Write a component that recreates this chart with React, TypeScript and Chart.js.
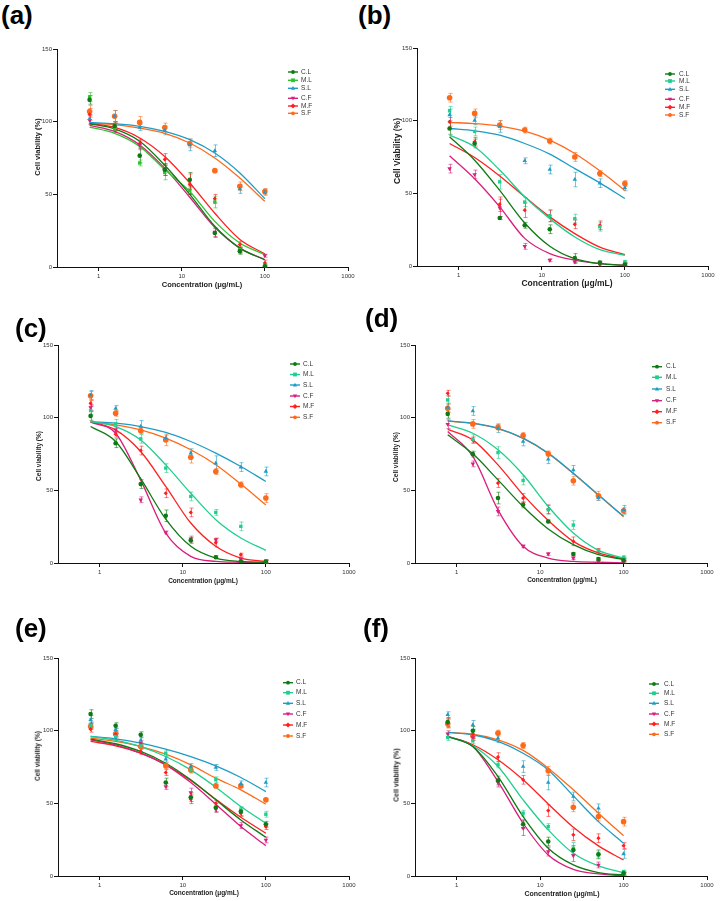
import React, { useEffect, useRef } from 'react';
import { Chart, registerables } from 'chart.js';

Chart.register(...registerables);

const FONT = '"Liberation Sans", Arial, Helvetica, sans-serif';

// ---------- shared data ----------
const CONCENTRATIONS = [0.78, 1.56, 3.125, 6.25, 12.5, 25, 50, 100];
const SERIES = ['C.L', 'M.L', 'S.L', 'C.F', 'M.F', 'S.F'];
const X_TICKS = [1, 10, 100, 1000];
const Y_TICKS = [0, 50, 100, 150];
const X_TITLE = 'Concentration (μg/mL)';

// ---------- panel (a) ----------  rows: C.L, M.L, S.L, C.F, M.F, S.F
const A_MEAN = [
  [115, 97, 76.6, 67, 60, 23.4, 10.8, 0.5],
  [117, 95, 71.6, 65, 52.8, 44.7, 12, 0.5],
  [102, 103.7, 96, 94, 84, 80, 53.7, 51.4],
  [101, 95.6, 83.7, 67, 53, 24, 11.5, 7.8],
  [105, 97, 85, 74, 57, 47, 15.4, 2.8],
  [107, 103.7, 99.5, 96, 85, 66.3, 55.5, 52],
];
const A_SD = [
  [3, 3, 5, 4, 5, 3, 2, 1],
  [3, 2, 2, 5, 3, 4, 2, 2],
  [3, 4, 2, 3, 4, 4, 3, 2],
  [3, 3, 3, 4, 3, 3, 2, 1],
  [4, 3, 3, 4, 7, 3, 2, 2],
  [4, 4, 4, 3, 3, 1, 3, 2],
];
const A_FIT = [
  [98.6, 95, 86.5, 70, 50, 28, 13, 5],
  [96.3, 92, 83, 67, 52, 31.4, 16.5, 8.5],
  [99.5, 98.6, 96.8, 93.3, 87.6, 78.4, 64.7, 47],
  [97.5, 93.3, 84, 68, 48, 27.3, 13, 5],
  [98.6, 96, 88.8, 76, 57.8, 37, 19, 9],
  [99, 98, 95.6, 92, 85.3, 75, 61.2, 45.2],
];

// ---------- panel (b) ----------
const B_MEAN = [
  [94.6, 84.3, 33, 28, 25.3, 5.5, 2.3, 1],
  [106.8, 92.6, 57.9, 44, 34.5, 32.6, 27, 2.8],
  [104, 100.2, 96, 72.4, 66.4, 59.5, 57, 53.8],
  [67, 63, 40, 13.5, 4, 2.8, 1, 1],
  [99.2, 85.5, 42.5, 38.4, 34.5, 28.7, 28, 1.6],
  [115.8, 105, 97, 93.5, 86, 75, 63.6, 56.7],
];
const B_SD = [
  [4, 3, 1, 2, 3, 3, 1, 1],
  [3, 3, 5, 3, 4, 3, 3, 1],
  [4, 3, 4, 2, 3, 5, 3, 2],
  [3, 3, 6, 2, 1, 1, 1, 1],
  [3, 3, 5, 5, 4, 3, 3, 1],
  [3, 3, 3, 2, 2, 3, 2, 2],
];
const B_FIT = [
  [88.9, 72.8, 52, 29.6, 13.6, 5, 1.6, 0.5],
  [90, 82, 66, 47.6, 32.6, 20, 11.3, 7.4],
  [94.6, 93, 90, 84.3, 77, 67, 57.2, 46.4],
  [75.8, 60, 40.7, 19, 8.5, 4, 1.6, 0.5],
  [84.3, 74.7, 62, 47.6, 33.8, 22.3, 13, 7.8],
  [98.8, 98, 96.3, 92.8, 86.6, 77.4, 65.5, 52],
];

// ---------- panel (c) ----------
const C_MEAN = [
  [101.2, 82.4, 54.3, 32.5, 15.6, 4, 1, 1],
  [104.9, 95.7, 85.4, 65.3, 45.8, 34.8, 25.2, 1],
  [115.6, 106.3, 94, 85.9, 75.6, 68.7, 66, 63],
  [107, 91.6, 43.5, 21, 16.5, 16, 2.7, 1],
  [110, 88.6, 77.4, 48, 34.8, 14, 5.7, 1],
  [115, 103, 91, 84.7, 72.8, 63, 53.8, 44.7],
];
const C_SD = [
  [3, 3, 3, 4, 2, 1, 1, 1],
  [3, 3, 3, 3, 3, 2, 3, 1],
  [3, 2, 4, 2, 3, 5, 3, 3],
  [2, 2, 2, 1, 2, 1, 1, 1],
  [2, 2, 3, 3, 3, 3, 1, 1],
  [3, 2, 2, 4, 4, 2, 2, 3],
];
const C_FIT = [
  [93.9, 83.6, 58, 30.2, 11.5, 3.4, 1.1, 0.5],
  [97.3, 93.9, 84.7, 67.5, 48, 29.8, 17.2, 8.7],
  [97.3, 96.2, 93.9, 89.8, 83.6, 75.6, 66.4, 56.1],
  [96.9, 89.3, 57, 20.6, 4.6, 1.1, 0.5, 0],
  [97.3, 91.6, 76.7, 52.7, 27.5, 11.5, 3.4, 1.1],
  [96.9, 95, 91.6, 85.9, 77.9, 67.6, 54.3, 40],
];

// ---------- panel (d) ----------
const D_MEAN = [
  [102.6, 74.9, 44.7, 40, 28.6, 6.2, 2.7, 1.8],
  [112.2, 85.2, 76, 56.8, 36.6, 26.1, 8.5, 3.9],
  [107, 104.6, 92.7, 83.6, 71.4, 64.1, 45, 36.6],
  [95.5, 68.2, 35.5, 11.5, 6.2, 3.4, 1, 0.5],
  [116.8, 84.7, 55, 44.7, 37, 14.9, 8, 2.7],
  [106.5, 95.7, 93.4, 87.7, 75.1, 56.6, 46.3, 36],
];
const D_SD = [
  [3, 2, 4, 2, 1, 1, 1, 1],
  [3, 3, 4, 3, 3, 3, 1, 1],
  [3, 3, 3, 3, 3, 3, 2, 3],
  [3, 2, 3, 1, 1, 1, 1, 1],
  [2, 2, 3, 3, 3, 3, 2, 1],
  [3, 3, 2, 2, 2, 3, 3, 2],
];
const D_FIT = [
  [88.2, 75.1, 57.2, 38.9, 23.4, 12.6, 5.7, 2.3],
  [95, 89.3, 77.9, 60.7, 38.9, 20.6, 8.7, 3.4],
  [97.8, 96.2, 92.7, 85.9, 75.6, 61.8, 46.9, 32.1],
  [90.5, 73.3, 36.6, 11.5, 3.4, 1.1, 0.5, 0],
  [92, 84.7, 67.5, 46.9, 29.3, 14.9, 6.9, 2.7],
  [97.6, 96, 92.5, 85.7, 75.4, 61.6, 46.7, 31.9],
];

// ---------- panel (e) ----------
const E_MEAN = [
  [111.4, 103.4, 97.2, 64.3, 54.2, 47.1, 44.3, 35.6],
  [103.6, 96, 89.6, 84.5, 73, 66.2, 45.5, 42.5],
  [107.5, 100.6, 93.3, 80.4, 75.3, 74.7, 63.4, 64.3],
  [104, 96, 91.4, 61.6, 57.4, 45.9, 34.7, 24.8],
  [101, 97.6, 85.7, 71.2, 52.8, 50, 43.2, 34],
  [102.9, 97.9, 89.1, 75.8, 73, 62, 62, 52.4],
];
const E_SD = [
  [3, 2, 2, 3, 3, 3, 3, 2],
  [2, 2, 2, 2, 2, 2, 2, 2],
  [3, 2, 3, 2, 2, 2, 2, 3],
  [2, 2, 2, 2, 3, 2, 2, 2],
  [2, 2, 2, 2, 3, 2, 2, 2],
  [2, 2, 2, 2, 2, 1, 1, 1],
];
const E_FIT = [
  [94.2, 91, 85.7, 77.6, 66.2, 52.4, 38.6, 26.6],
  [96, 93.3, 89.1, 82.2, 73, 61.1, 47.8, 36.3],
  [96, 94.4, 91.4, 87.3, 82.2, 75.8, 67.8, 58.1],
  [93.7, 90.3, 84.5, 76.5, 64.3, 49.4, 34, 20.9],
  [92.6, 89.6, 84.5, 76.5, 65.7, 52.8, 40.4, 29.4],
  [94.9, 92.6, 89.1, 83.8, 76.5, 67.3, 59.3, 49.4],
];

// ---------- panel (f) ----------
const F_MEAN = [
  [105.9, 99.9, 65.7, 35.6, 23.7, 17.9, 14.9, 1.8],
  [95.3, 93, 76.5, 43.2, 34, 19.1, 14.5, 3],
  [111, 104, 94.9, 75.3, 64.3, 54.7, 46.6, 15.2],
  [97.9, 95.3, 64.3, 32.9, 16.8, 14, 7.6, 1.4],
  [105.2, 97.6, 81.8, 66.2, 45, 28.3, 26, 20.9],
  [104.8, 96.5, 98.3, 89.8, 72.4, 47.3, 40.9, 37.4],
];
const F_SD = [
  [3, 3, 3, 3, 3, 3, 3, 1],
  [2, 2, 2, 2, 2, 4, 2, 1],
  [2, 3, 3, 4, 5, 3, 3, 3],
  [2, 2, 3, 5, 3, 4, 2, 1],
  [3, 3, 3, 3, 4, 4, 3, 2],
  [3, 3, 2, 2, 3, 3, 3, 3],
];
const F_FIT = [
  [96, 89.1, 68.4, 40.9, 19.1, 7.6, 2.3, 0.7],
  [96, 89.6, 75.3, 52.4, 31.7, 15.6, 6.9, 2.3],
  [98.8, 97.2, 92.6, 84.5, 73, 55.1, 37.4, 22.5],
  [96, 89.1, 65, 36.3, 14.5, 4.6, 1.4, 0.2],
  [96, 90.3, 80, 66.2, 49.6, 33.5, 20.7, 11],
  [98.8, 97.6, 93.7, 86.4, 74.2, 59.3, 43.2, 27.6],
];

// ---------- styles ----------
const COLORS = ['#0f7a14', '#1fcf8d', '#1f9cc6', '#d91e7c', '#ff1f1f', '#ff6a1a'];
const COLORS_A = ['#0f7a14', '#2ec42e', '#1f9cc6', '#d91e7c', '#ff1f1f', '#ff6a1a'];
const POINT_STYLES = ['circle', 'rect', 'triangle', 'triangle', 'rectRot', 'circle'];
const POINT_ROT = [0, 0, 0, 180, 0, 0];
const POINT_RADIUS = [2.3, 2.4, 2.6, 2.6, 2.1, 2.8];

const PADL = 30;
const PADT = 8;
const PADR = 14;
const PADB = 18;

const PANELS = [
  {
    label: '(a)', labelX: 3, labelY: 5, mean: A_MEAN, sd: A_SD, fit: A_FIT, colors: COLORS_A,
    box: { l: 57, r: 348, t: 49, b: 267 },
    legX: 293, legTextX: 301, legY: [72, 80.3, 88.3, 98.3, 106, 113.3],
    yTitle: 'Cell viability (%)', yTitleX: 38, yTitleY: 147, xTitleX: 202, xTitleY: 285, titleSize: 7.5,
  },
  {
    label: '(b)', labelX: 360, labelY: 5, mean: B_MEAN, sd: B_SD, fit: B_FIT, colors: COLORS,
    box: { l: 417, r: 708, t: 48, b: 266 },
    legX: 670, legTextX: 679, legY: [74, 81, 89.3, 99.3, 107.3, 115],
    yTitle: 'Cell Viability (%)', yTitleX: 397, yTitleY: 151, xTitleX: 567, xTitleY: 283, titleSize: 8.5,
  },
  {
    label: '(c)', labelX: 17, labelY: 318, mean: C_MEAN, sd: C_SD, fit: C_FIT, colors: COLORS,
    box: { l: 58, r: 349, t: 345, b: 563 },
    legX: 295, legTextX: 303, legY: [364, 374.5, 385, 396, 406.5, 417.3],
    yTitle: 'Cell viability (%)', yTitleX: 39, yTitleY: 456, xTitleX: 203, xTitleY: 581, titleSize: 6.5,
  },
  {
    label: '(d)', labelX: 367, labelY: 308, mean: D_MEAN, sd: D_SD, fit: D_FIT, colors: COLORS,
    box: { l: 415, r: 707, t: 345, b: 563 },
    legX: 657, legTextX: 666, legY: [366.7, 377.3, 389, 400.7, 411.7, 422.7],
    yTitle: 'Cell viability (%)', yTitleX: 396, yTitleY: 457, xTitleX: 562, xTitleY: 580, titleSize: 6.5,
  },
  {
    label: '(e)', labelX: 17, labelY: 618, mean: E_MEAN, sd: E_SD, fit: E_FIT, colors: COLORS,
    box: { l: 58, r: 349, t: 658, b: 876 },
    legX: 288, legTextX: 296, legY: [682.7, 692.7, 703.3, 714, 725, 736],
    yTitle: 'Cell viability (%)', yTitleX: 38, yTitleY: 756, xTitleX: 204, xTitleY: 893, titleSize: 6.5,
  },
  {
    label: '(f)', labelX: 365, labelY: 618, mean: F_MEAN, sd: F_SD, fit: F_FIT, colors: COLORS,
    box: { l: 415, r: 707, t: 658, b: 876 },
    legX: 654, legTextX: 664, legY: [684, 693.3, 703.3, 714, 724, 734.3],
    yTitle: 'Cell viability (%)', yTitleX: 396, yTitleY: 775, xTitleX: 562, xTitleY: 893, titleSize: 7,
  },
];

function rgba(hex: string, a: number) {
  const n = parseInt(hex.slice(1), 16);
  return `rgba(${(n >> 16) & 255},${(n >> 8) & 255},${n & 255},${a})`;
}

function drawMarker(ctx: CanvasRenderingContext2D, style: string, rot: number, r: number, x: number, y: number) {
  ctx.beginPath();
  if (style === 'circle') {
    ctx.arc(x, y, r, 0, Math.PI * 2);
  } else if (style === 'rect') {
    ctx.rect(x - r, y - r, 2 * r, 2 * r);
  } else if (style === 'rectRot') {
    ctx.moveTo(x, y - r * 1.3);
    ctx.lineTo(x + r * 1.3, y);
    ctx.lineTo(x, y + r * 1.3);
    ctx.lineTo(x - r * 1.3, y);
    ctx.closePath();
  } else if (style === 'triangle') {
    const s = rot === 180 ? -1 : 1;
    ctx.moveTo(x, y - s * r * 1.2);
    ctx.lineTo(x + r * 1.1, y + s * r * 0.8);
    ctx.lineTo(x - r * 1.1, y + s * r * 0.8);
    ctx.closePath();
  }
  ctx.fill();
}

function Panel({ cfg }: { cfg: any }) {
  const ref = useRef<HTMLCanvasElement>(null);
  const W = cfg.box.r - cfg.box.l + PADL + PADR;
  const H = cfg.box.b - cfg.box.t + PADT + PADB;
  const left = cfg.box.l - PADL;
  const top = cfg.box.t - PADT;

  useEffect(() => {
    const canvas = ref.current;
    if (!canvas) return;
    const colors: string[] = cfg.colors;

    const datasets: any[] = [];
    SERIES.forEach((name, i) => {
      datasets.push({
        type: 'scatter',
        label: name,
        data: CONCENTRATIONS.map((x, j) => ({ x, y: cfg.mean[i][j] })),
        backgroundColor: colors[i],
        borderColor: colors[i],
        borderWidth: 0,
        pointStyle: POINT_STYLES[i],
        pointRotation: POINT_ROT[i],
        pointRadius: POINT_RADIUS[i],
        showLine: false,
      });
    });
    SERIES.forEach((name, i) => {
      datasets.push({
        type: 'line',
        label: name + ' fit',
        data: CONCENTRATIONS.map((x, j) => ({ x, y: cfg.fit[i][j] })),
        borderColor: colors[i],
        backgroundColor: colors[i],
        borderWidth: 1.3,
        pointRadius: 0,
        fill: false,
        cubicInterpolationMode: 'monotone',
      });
    });

    const errorBars = {
      id: 'errorBars',
      beforeDatasetsDraw(chart: any) {
        const ctx = chart.ctx;
        const ys = chart.scales.y;
        ctx.save();
        ctx.lineWidth = 1;
        SERIES.forEach((_, i) => {
          const meta = chart.getDatasetMeta(i);
          ctx.strokeStyle = rgba(colors[i], 0.6);
          meta.data.forEach((el: any, j: number) => {
            const m = cfg.mean[i][j];
            const s = cfg.sd[i][j];
            const y1 = ys.getPixelForValue(m + s);
            const y2 = ys.getPixelForValue(Math.max(0, m - s));
            const x = Math.round(el.x) + 0.5;
            ctx.beginPath();
            ctx.moveTo(x, y1);
            ctx.lineTo(x, y2);
            ctx.moveTo(x - 2, y1);
            ctx.lineTo(x + 2, y1);
            ctx.moveTo(x - 2, y2);
            ctx.lineTo(x + 2, y2);
            ctx.stroke();
          });
        });
        ctx.restore();
      },
    };

    const legendPlugin = {
      id: 'panelLegend',
      afterDraw(chart: any) {
        const ctx = chart.ctx;
        ctx.save();
        ctx.font = `6.5px ${FONT}`;
        ctx.textBaseline = 'middle';
        ctx.textAlign = 'left';
        SERIES.forEach((name, i) => {
          const x = cfg.legX - left;
          const y = cfg.legY[i] - top;
          ctx.strokeStyle = colors[i];
          ctx.fillStyle = colors[i];
          ctx.lineWidth = 1.4;
          ctx.beginPath();
          ctx.moveTo(x - 5, y);
          ctx.lineTo(x + 5, y);
          ctx.stroke();
          drawMarker(ctx, POINT_STYLES[i], POINT_ROT[i], 1.9, x, y);
          ctx.fillStyle = '#333';
          ctx.fillText(name, cfg.legTextX - left, y);
        });
        ctx.restore();
      },
    };

    const zeroPad = (s: any) => {
      s.paddingLeft = 0;
      s.paddingRight = 0;
      s.paddingTop = 0;
      s.paddingBottom = 0;
    };

    const axisCommon = {
      grid: { drawOnChartArea: false, drawTicks: true, tickLength: 4, color: '#111', lineWidth: 1 },
      border: { display: true, color: '#111', width: 1 },
    };

    const chart = new Chart(canvas, {
      data: { datasets },
      options: {
        animation: false,
        responsive: false,
        maintainAspectRatio: false,
        devicePixelRatio: 1,
        events: [],
        layout: { padding: { left: 0, top: PADT, right: PADR, bottom: 0 } },
        plugins: { legend: { display: false }, tooltip: { enabled: false }, title: { display: false } },
        scales: {
          x: {
            type: 'logarithmic',
            min: Math.pow(10, -0.5),
            max: 1000,
            bounds: 'data',
            position: 'bottom',
            afterBuildTicks: (s: any) => {
              s.ticks = X_TICKS.map((v) => ({ value: v }));
            },
            afterFit: (s: any) => {
              s.height = PADB;
              zeroPad(s);
            },
            ticks: {
              callback: (v: any) => String(v),
              font: { family: FONT, size: 6 },
              color: '#333',
              padding: 2,
              maxRotation: 0,
              autoSkip: false,
            },
            ...axisCommon,
          },
          y: {
            type: 'linear',
            min: 0,
            max: 150,
            position: 'left',
            afterBuildTicks: (s: any) => {
              s.ticks = Y_TICKS.map((v) => ({ value: v }));
            },
            afterFit: (s: any) => {
              s.width = PADL;
              zeroPad(s);
            },
            ticks: {
              callback: (v: any) => String(v),
              font: { family: FONT, size: 6 },
              color: '#333',
              padding: 1,
              autoSkip: false,
            },
            ...axisCommon,
          },
        },
      } as any,
      plugins: [errorBars, legendPlugin],
    } as any);

    return () => chart.destroy();
  }, []);

  return (
    <>
      <div
        style={{
          position: 'absolute', left: cfg.labelX - 2, top: cfg.labelY - 3,
          fontFamily: FONT, fontWeight: 700, fontSize: 26, lineHeight: '26px', color: '#000',
        }}
      >
        {cfg.label}
      </div>
      <canvas
        ref={ref}
        width={W}
        height={H}
        style={{ position: 'absolute', left, top, width: W, height: H }}
      />
      <div
        style={{
          position: 'absolute', left: cfg.yTitleX, top: cfg.yTitleY,
          transform: 'translate(-50%, -50%) rotate(-90deg)',
          fontFamily: FONT, fontWeight: 700, fontSize: cfg.titleSize, lineHeight: 1,
          whiteSpace: 'nowrap', color: '#222',
        }}
      >
        {cfg.yTitle}
      </div>
      <div
        style={{
          position: 'absolute', left: cfg.xTitleX, top: cfg.xTitleY,
          transform: 'translate(-50%, -50%)',
          fontFamily: FONT, fontWeight: 700, fontSize: cfg.titleSize, lineHeight: 1,
          whiteSpace: 'nowrap', color: '#222',
        }}
      >
        {X_TITLE}
      </div>
    </>
  );
}

export default function App() {
  return (
    <div style={{ position: 'absolute', left: 0, top: 0, width: 720, height: 901, background: '#fff', overflow: 'hidden' }}>
      {PANELS.map((p) => (
        <Panel key={p.label} cfg={p} />
      ))}
    </div>
  );
}
